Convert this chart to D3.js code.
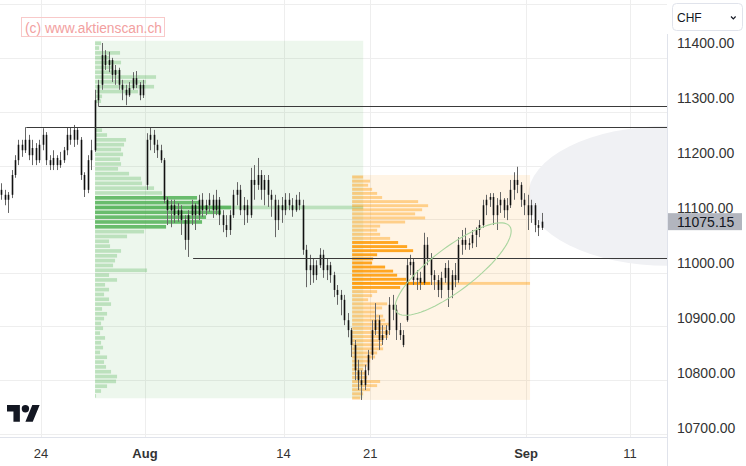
<!DOCTYPE html>
<html><head><meta charset="utf-8">
<script src="https://cdn.jsdelivr.net/npm/d3@7"></script>
<style>
html,body{margin:0;padding:0;background:#fff;}
svg{display:block;font-family:"Liberation Sans",Arial,sans-serif;}
</style></head><body>
<svg id="chart" width="746" height="466"></svg>
<script>
// ---------- DATA ----------
const sessions = ["Jul 19","Jul 20","Jul 21","Jul 24","Jul 25","Jul 26","Jul 27","Jul 28","Jul 31",
  "Aug 2","Aug 3","Aug 4","Aug 7","Aug 8","Aug 9","Aug 10","Aug 11","Aug 14","Aug 15","Aug 16","Aug 17","Aug 18",
  "Aug 21","Aug 22","Aug 23","Aug 24","Aug 25","Aug 28","Aug 29","Aug 30","Aug 31","Sep 1",
  "Sep 4","Sep 5","Sep 6","Sep 7","Sep 8","Sep 11","Sep 12","Sep 13"];
const barsPerSession = 5;
const firstSession = "Jul 19", firstSlot = 3;

const open = [
 11133,11124,
 11115,11124,11160,11187,11215,
 11205,11224,11196,11209,11187,
 11215,11233,11187,11178,11191,
 11178,11187,11205,11233,11224,
 11242,11224,11160,11133,11187,
 11205,11296,11324,11378,11360,
 11369,11342,11351,11324,11315,
 11305,11318,11336,11324,11305,
 11142,11224,11233,11215,11205,
 11187,11115,11096,11105,11087,
 11096,11078,11042,11087,11105,
 11087,11115,11096,11105,11115,
 11096,11115,11087,11069,11060,
 11087,11124,11133,11096,11105,
 11087,11151,11142,11160,11133,
 11151,11124,11115,11078,11105,
 11096,11115,11105,11096,11115,
 11105,11024,10987,10996,10978,
 10996,11015,10987,10996,10978,
 10951,10942,10933,10896,10878,
 10851,10805,10787,10778,10805,
 10833,10878,10896,10860,10869,
 10878,10924,10915,10878,10869,
 10896,10996,11002,10969,10973,
 10964,11033,11009,10978,10969,
 10951,10973,10991,10951,10978,
 10969,11033,11042,11033,11036,
 11051,11060,11069,11105,11115,
 11120,11087,11105,11115,11096,
 11105,11133,11151,11142,11115,
 11105,11087,11105,11069,11064];
const high = [
 11145,11133,
 11129,11169,11196,11224,11224,
 11247,11233,11224,11218,11224,
 11245,11238,11196,11205,11196,
 11202,11211,11247,11247,11251,
 11247,11229,11165,11196,11224,
 11315,11333,11400,11387,11384,
 11373,11360,11355,11333,11324,
 11329,11347,11349,11329,11333,
 11236,11247,11242,11224,11215,
 11191,11120,11115,11115,11109,
 11105,11087,11096,11115,11109,
 11124,11127,11115,11127,11124,
 11133,11120,11096,11087,11096,
 11133,11147,11142,11120,11115,
 11173,11178,11191,11169,11160,
 11160,11133,11124,11115,11120,
 11127,11127,11118,11124,11129,
 11115,11033,11015,11009,11005,
 11027,11024,11009,11002,10984,
 10960,10951,10942,10909,10882,
 10860,10824,10805,10815,10842,
 10896,10927,10905,10887,10887,
 10938,10942,10924,10891,10878,
 11009,11015,11009,10987,10984,
 11055,11047,11018,10987,10978,
 10984,11000,11005,10987,11000,
 11047,11060,11064,11045,11060,
 11065,11078,11115,11124,11127,
 11127,11118,11129,11118,11118,
 11151,11165,11175,11147,11127,
 11124,11115,11109,11078,11091];
const low = [
 11115,11105,
 11091,11118,11155,11178,11193,
 11200,11187,11178,11178,11182,
 11205,11178,11169,11169,11169,
 11173,11182,11196,11215,11211,
 11215,11151,11120,11127,11169,
 11202,11284,11315,11351,11347,
 11329,11324,11315,11296,11287,
 11302,11315,11318,11296,11300,
 11133,11205,11200,11191,11182,
 11109,11069,11065,11073,11075,
 11051,11024,11011,11069,11060,
 11078,11084,11087,11093,11082,
 11087,11069,11056,11047,11051,
 11082,11105,11087,11069,11073,
 11082,11115,11133,11115,11105,
 11102,11084,11047,11060,11073,
 11087,11096,11084,11093,11096,
 11015,10956,10960,10964,10969,
 10991,10973,10969,10964,10938,
 10924,10905,10887,10865,10829,
 10787,10769,10751,10769,10796,
 10824,10869,10842,10851,10860,
 10869,10896,10860,10860,10847,
 10893,10978,10960,10951,10951,
 10960,10996,10960,10951,10938,
 10936,10964,10920,10936,10956,
 10964,11015,11024,11024,11027,
 11029,11047,11064,11087,11102,
 11069,11060,11091,11082,11078,
 11100,11115,11127,11102,11087,
 11060,11073,11056,11049,11060];
const close = [
 11124,11115,
 11124,11160,11187,11215,11205,
 11224,11196,11209,11187,11215,
 11233,11187,11178,11191,11178,
 11187,11205,11233,11224,11242,
 11224,11160,11133,11187,11205,
 11296,11324,11378,11360,11369,
 11342,11351,11324,11315,11305,
 11318,11336,11324,11305,11324,
 11224,11233,11215,11205,11187,
 11115,11096,11105,11087,11096,
 11078,11042,11087,11105,11087,
 11115,11096,11105,11115,11096,
 11115,11087,11069,11060,11087,
 11124,11133,11096,11105,11087,
 11151,11142,11160,11133,11151,
 11124,11115,11078,11105,11096,
 11115,11105,11096,11115,11105,
 11024,10987,10996,10978,10996,
 11015,10987,10996,10978,10951,
 10942,10933,10896,10878,10851,
 10805,10787,10778,10805,10833,
 10878,10896,10860,10869,10878,
 10924,10915,10878,10869,10851,
 10996,11002,10969,10973,10964,
 11033,11009,10978,10969,10951,
 10973,10991,10951,10978,10969,
 11033,11042,11033,11036,11051,
 11060,11069,11105,11115,11120,
 11087,11105,11115,11096,11105,
 11133,11151,11142,11115,11105,
 11087,11105,11069,11064,11075.15];
const lastPrice = 11075.15;

// axis ticks
const priceTicks = [10700,10800,10900,11000,11100,11200,11300,11400];
const gridPrices = [11470,11373,11275,11177,11080,10982,10885,10787,10690];
const dateTickSessions = ["Jul 24","Aug 2","Aug 14","Aug 21","Sep 1","Sep 11"];
const dateTickLabels = ["24","Aug","14","21","Sep","11"];
const dateTickIsMonth = [false,true,false,false,true,false];

// horizontal levels
const levelPrices = [11285, 11247, 11009];
const levelStartSession = ["Jul 27","Jul 21","Aug 4"];
const levelStartOffset = [0.35, 0.15, 0.78];

// volume profile 1 (green)
const greenRangeSessions = ["Jul 27","Aug 18"];
const greenRangeOffsets = [0.12, 0.6];
const greenPriceRange = [10754, 11404];
const greenValueArea = [11062, 11123];
const greenVolume = [6,4,25,14,26,17,25,61,51,59,43,7,6,0,0,0,0,0,
  7,12,31,29,26,28,25,26,23,34,46,47,59,67,
  102,104,136,126,111,107,71,
  49,32,14,15,26,22,
  20,18,52,14,22,10,14,9,14,16,7,12,9,6,8,5,10,6,8,5,12,9,11,16,22,21,12,6,1];

// volume profile 2 (orange)
const orangeRangeSessions = ["Aug 18","Sep 1"];
const orangeRangeOffsets = [-0.04, 0.23];
const orangePriceRange = [10751, 11160];
const orangeValueArea = [10952, 11040];
const orangeVolume = [11,18,16,20,25,30,66,76,70,63,73,53,28,25,28,38,46,55,61,25,
  21,20,33,41,45,54,78,48,25,20,16,35,30,23,31,33,38,35,38,36,
  31,30,31,25,23,18,15,11,13,15,28,25,18,11,8];

// ellipse drawing (two ends + half height in points)
const ellipseEnds = [["Aug 22",0.44,10920],["Aug 31",0.14,11058]];
const ellipseHalfHeight = 48;

// projection cone (ellipse): center session/offset/price and radii (sessions, points)
const coneCenter = ["Sep 13",0.2,11122];
const coneRadii = [8.08, 127];

// ---------- CHART ----------
const plotRight = 667, plotBottom = 437;
const svg = d3.select("#chart");
const sIdx = n => sessions.indexOf(n);
const x = d3.scaleLinear().domain([sIdx("Jul 24"), sIdx("Sep 11")]).range([41, 630]);
const y = d3.scaleLinear().domain([11000, 11400]).range([263, 43]);
const xs = (name, off) => x(sIdx(name) + off);

svg.append("rect").attr("width",746).attr("height",466).attr("fill","#fff");
svg.append("defs").append("clipPath").attr("id","plotclip")
  .append("rect").attr("x",0).attr("y",0).attr("width",plotRight).attr("height",plotBottom);
const plot = svg.append("g").attr("clip-path","url(#plotclip)");

// grid
plot.append("g").selectAll("line").data(gridPrices).join("line")
  .attr("x1",0).attr("x2",plotRight)
  .attr("y1",d=>Math.round(y(d))+0.5).attr("y2",d=>Math.round(y(d))+0.5)
  .attr("stroke","#eeeeee").attr("stroke-width",1);
plot.append("g").selectAll("line").data(dateTickSessions).join("line")
  .attr("x1",d=>Math.round(x(sIdx(d)))+0.5).attr("x2",d=>Math.round(x(sIdx(d)))+0.5)
  .attr("y1",0).attr("y2",plotBottom)
  .attr("stroke","#eeeeee").attr("stroke-width",1);

// cone
{
  const cx = xs(coneCenter[0], coneCenter[1]), cy = y(coneCenter[2]);
  const rx = x(coneRadii[0]) - x(0), ry = y(0) - y(coneRadii[1]);
  plot.append("ellipse").attr("cx",cx).attr("cy",cy).attr("rx",rx).attr("ry",ry)
    .attr("fill","#f0f1f4");
}

// volume profiles
function drawProfile(rangeS, rangeO, priceRange, vols, va, bg, lightC, darkC) {
  const x0 = xs(rangeS[0], rangeO[0]), x1 = xs(rangeS[1], rangeO[1]);
  const top = priceRange[1], bot = priceRange[0];
  plot.append("rect").attr("x",x0).attr("y",y(top)).attr("width",x1-x0).attr("height",y(bot)-y(top))
    .attr("fill",bg);
  const n = vols.length, bin = (top - bot)/n;
  const maxV = d3.max(vols);
  const w = d3.scaleLinear().domain([0, maxV]).range([0, maxV]);
  const poc = vols.indexOf(maxV);
  const rowH = y(top - bin) - y(top);
  const g = plot.append("g");
  g.append("rect").attr("x",x0).attr("y",y(top - poc*bin)+0.6).attr("width",x1-x0).attr("height",rowH-1.2)
    .attr("fill",lightC);
  g.selectAll("rect.row").data(vols).join("rect").attr("class","row")
    .attr("x",x0).attr("y",(d,i)=>y(top - i*bin)+0.6)
    .attr("width",d=>w(d)).attr("height",rowH-1.2)
    .attr("fill",(d,i)=>{const c = top-(i+0.5)*bin; return (c>=va[0] && c<=va[1]) ? darkC : lightC;});
}
drawProfile(greenRangeSessions, greenRangeOffsets, greenPriceRange, greenVolume, greenValueArea,
  "rgba(76,175,80,0.1)", "rgba(76,175,80,0.3)", "rgba(76,175,80,0.82)");
drawProfile(orangeRangeSessions, orangeRangeOffsets, orangePriceRange, orangeVolume, orangeValueArea,
  "rgba(255,152,0,0.1)", "rgba(255,152,0,0.4)", "rgba(255,152,0,0.85)");

// candles
const candles = open.map((o,i)=>{
  const slot = firstSlot + i;
  const d = sIdx(firstSession) + Math.floor(slot/barsPerSession);
  const k = slot % barsPerSession;
  return {t: d + (k+0.5)/barsPerSession, o, h: high[i], l: low[i], c: close[i]};
});
const cg = plot.append("g");
cg.selectAll("line").data(candles).join("line")
  .attr("x1",d=>Math.round(x(d.t))+0.5).attr("x2",d=>Math.round(x(d.t))+0.5)
  .attr("y1",d=>y(d.h)).attr("y2",d=>y(d.l))
  .attr("stroke","#666").attr("stroke-width",1);
cg.selectAll("rect").data(candles).join("rect")
  .attr("x",d=>Math.round(x(d.t))-0.3).attr("width",1.6)
  .attr("y",d=>y(Math.max(d.o,d.c)))
  .attr("height",d=>Math.max(1, Math.abs(y(d.o)-y(d.c))))
  .attr("fill","#111");

// level lines
plot.append("g").selectAll("line").data(levelPrices).join("line")
  .attr("x1",(d,i)=>xs(levelStartSession[i], levelStartOffset[i])).attr("x2",plotRight)
  .attr("y1",d=>Math.round(y(d))+0.5).attr("y2",d=>Math.round(y(d))+0.5)
  .attr("stroke","#3a3a3a").attr("stroke-width",1);

// ellipse drawing
{
  const pL = [xs(ellipseEnds[0][0], ellipseEnds[0][1]), y(ellipseEnds[0][2])];
  const pR = [xs(ellipseEnds[1][0], ellipseEnds[1][1]), y(ellipseEnds[1][2])];
  const c = [(pL[0]+pR[0])/2, (pL[1]+pR[1])/2];
  const u = [pR[0]-c[0], pR[1]-c[1]];
  const v = y(0) - y(ellipseHalfHeight);
  const pts = d3.range(0, 361, 4).map(a=>{const t=a*Math.PI/180; return [c[0]+u[0]*Math.cos(t), c[1]+u[1]*Math.cos(t)+v*Math.sin(t)];});
  plot.append("path").attr("d", d3.line()(pts)+"Z").attr("fill","none")
    .attr("stroke","#a9d59f").attr("stroke-width",1.1);
}

// axes borders
svg.append("line").attr("x1",0).attr("x2",plotRight).attr("y1",plotBottom+0.5).attr("y2",plotBottom+0.5)
  .attr("stroke","#e0e3eb");
svg.append("line").attr("x1",plotRight+0.5).attr("x2",plotRight+0.5).attr("y1",34).attr("y2",466)
  .attr("stroke","#e0e3eb");

// price labels
svg.append("g").selectAll("text").data(priceTicks).join("text")
  .attr("x",677).attr("y",d=>y(d)+5)
  .attr("font-size",14).attr("fill","#333")
  .text(d=>d3.format(".2f")(d));
// last price box
svg.append("rect").attr("x",plotRight+1).attr("y",y(lastPrice)-8.5).attr("width",74).attr("height",17)
  .attr("fill","#b2b5be");
svg.append("text").attr("x",677).attr("y",y(lastPrice)+5).attr("font-size",14).attr("fill","#131722")
  .text(d3.format(".2f")(lastPrice));

// date labels
svg.append("g").selectAll("text").data(dateTickSessions).join("text")
  .attr("x",d=>x(sIdx(d))).attr("y",457.5).attr("text-anchor","middle")
  .attr("font-size",13).attr("fill","#333")
  .attr("font-weight",(d,i)=>dateTickIsMonth[i]?"bold":"normal")
  .text((d,i)=>dateTickLabels[i]);

// currency selector
svg.append("rect").attr("x",672.5).attr("y",3.5).attr("width",70).attr("height",27).attr("rx",4)
  .attr("fill","#fff").attr("stroke","#e0e3eb");
svg.append("text").attr("x",677).attr("y",21.5).attr("font-size",12).attr("fill","#131722").text("CHF");
svg.append("path").attr("d","M731,16.5 l2.3,2.3 l2.3,-2.3").attr("fill","none").attr("stroke","#131722").attr("stroke-width",1.2);

// watermark
svg.append("rect").attr("x",21.5).attr("y",17.5).attr("width",143).attr("height",19)
  .attr("fill","none").attr("stroke","#f8c9c9");
svg.append("text").attr("x",25).attr("y",32.5).attr("font-size",14).attr("fill","#f2a0a0")
  .attr("textLength",137).attr("lengthAdjust","spacingAndGlyphs")
  .text("(c) www.aktienscan.ch");

// TradingView logo
const logo = svg.append("g").attr("transform","translate(7,401.4) scale(0.92)").attr("fill","#131722");
logo.append("path").attr("d","M14 22H7V11H0V4h14v18zM28 22h-8l7.5-18h8L28 22z");
logo.append("circle").attr("cx",20).attr("cy",8).attr("r",4);
</script>
</body></html>
